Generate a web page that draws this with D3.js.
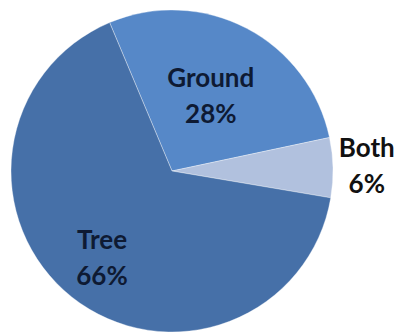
<!DOCTYPE html>
<meta charset="utf-8">
<style>
  body { margin: 0; background: #fff; }
  text { font-family: Lato, "Open Sans", sans-serif; font-weight: bold; }
</style>
<svg width="405" height="333"></svg>
<script src="https://cdn.jsdelivr.net/npm/d3@7"></script>
<script>

var categories = ["Ground", "Both", "Tree"];
var values = [28, 6, 66];
var labels = ["28%", "6%", "66%"];

var colors = ["#5688c8", "#b1c1de", "#4670a8"];
var textColors = ["#0e1a33", "#111111", "#0e1a33"];
// how far out from the centre each label sits, as a share of the radius
var labelFactor = [0.52, 1.21, 0.7];

var svg = d3.select("svg"),
    cx = 172, cy = 171, radius = 161;

var start = -22.8 * Math.PI / 180;

var pie = d3.pie()
    .sort(null)
    .startAngle(start)
    .endAngle(start + 2 * Math.PI);

var arcs = pie(values);

var arc = d3.arc().innerRadius(0).outerRadius(radius);

var g = svg.append("g").attr("transform", "translate(" + cx + "," + cy + ")");

g.selectAll("path.slice")
    .data(arcs)
  .enter().append("path")
    .attr("class", "slice")
    .attr("d", arc)
    .attr("fill", function(d, i) { return colors[i]; })
    .attr("stroke", "rgba(255,255,255,0.35)")
    .attr("stroke-width", 1);

var lbl = g.selectAll("g.label")
    .data(arcs)
  .enter().append("g")
    .attr("class", "label")
    .attr("transform", function(d, i) {
      var r = radius * labelFactor[i];
      var c = d3.arc().innerRadius(r).outerRadius(r).centroid(d);
      return "translate(" + c[0] + "," + c[1] + ")";
    });

lbl.append("text")
    .attr("text-anchor", "middle")
    .attr("y", -10)
    .attr("font-size", 26)
    .attr("fill", function(d, i) { return textColors[i]; })
    .text(function(d, i) { return categories[i]; });

lbl.append("text")
    .attr("text-anchor", "middle")
    .attr("y", 26)
    .attr("font-size", 26)
    .attr("fill", function(d, i) { return textColors[i]; })
    .text(function(d, i) { return labels[i]; });

</script>
